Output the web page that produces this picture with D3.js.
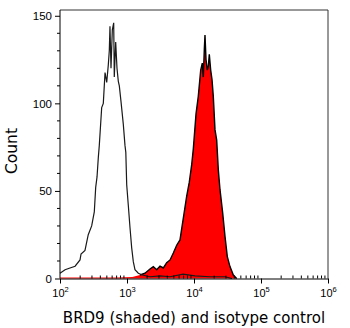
<!DOCTYPE html>
<html><head><meta charset="utf-8">
<script src="https://cdn.jsdelivr.net/npm/d3@7"></script>
<style>html,body{margin:0;padding:0;background:#fff;}</style>
</head><body>
<svg id="chart" width="350" height="328"></svg>
<script>
// Isotype control histogram (unshaded): fluorescence intensity, count
const isoIntensity = [100,119,141,168,199,206,236,264,297,325,341,357,373,386,419,443,470,498,526,544,557,577,604,633,646,678,709,742,768,814,881,933,960,990,1045,1109,1175,1242,1315,1475,1692,2203,3110,4390,6860,10350,17340,29040,36900];
const isoCount     = [3,5,6,7,10.6,14,16,25,30,38,52,58,69,76,97.6,100,117.6,112,122,130,144,120,142,146,115,135,120,112.6,110,101,88,76,72,53.5,42,29,17.5,9.6,5,3,2,1,1.5,1,2.5,1.5,1,1,0];
// BRD9 histogram (shaded red)
const brdIntensity = [100,300,700,1200,1563,1857,2203,2471,2774,3110,3485,3913,4390,4914,5517,6180,6776,7161,7780,8508,9240,9770,10720,11590,12590,13300,13770,14260,14590,15110,15810,16350,16920,17740,18570,19410,20570,21810,23060,24440,26790,29040,31420,34440,38620,43340];
const brdCount     = [0.5,0.5,0.5,0.8,2,3,5.4,6.8,5,7,6,9,10.6,14.6,19,22,32,38,47,55,65,74,94,104,119,123,115,131,139,125,119,121,128,119,113.6,104,85,79,62,50.7,37.5,24,12.5,6.8,2,0];
const xTickValues = [100,1000,10000,100000,1000000];
const xTickExp = ["2","3","4","5","6"];
const yTickValues = [0,50,100,150];
const yMinorValues = [10,20,30,40,60,70,80,90,110,120,130,140];
const xTitle = "BRD9 (shaded) and isotype control";
const yTitle = "Count";

const svg = d3.select("#chart");
const x = d3.scaleLog().domain([100,1e6]).range([60,328]);
const y = d3.scaleLinear().domain([0,153.3]).range([278.5,10]);

const brd = brdIntensity.map((v,i)=>({x:v,c:brdCount[i]}));
const iso = isoIntensity.map((v,i)=>({x:v,c:isoCount[i]}));

// red area
svg.append("path").datum(brd)
  .attr("d", d3.area().x(d=>x(d.x)).y0(y(0)).y1(d=>y(d.c)))
  .attr("fill","#ff0000");
svg.append("path").datum(brd.filter(d=>d.x>=1500))
  .attr("d", d3.line().x(d=>x(d.x)).y(d=>y(d.c)))
  .attr("fill","none").attr("stroke","#000").attr("stroke-width",1.4);
// isotype line
svg.append("path").datum(iso)
  .attr("d", d3.line().x(d=>x(d.x)).y(d=>y(d.c)))
  .attr("fill","none").attr("stroke","#1a1a1a").attr("stroke-width",1.2);

// frame
svg.append("path").attr("d",`M${x(100)},${y.range()[1]}H${x(1e6)}V${y(0)}`)
  .attr("fill","none").attr("stroke","#333").attr("stroke-width",1);

// y axis
const yAxis = svg.append("g").attr("transform",`translate(${x(100)},0)`);
yAxis.call(d3.axisLeft(y).tickValues(yTickValues).tickSize(5).tickSizeOuter(0).tickPadding(3));
yAxis.append("g").selectAll("line").data(yMinorValues).join("line")
  .attr("x1",-3).attr("x2",0).attr("y1",d=>y(d)).attr("y2",d=>y(d)).attr("stroke","#000");
yAxis.select(".domain").attr("d",`M0,${y.range()[1]}V${y(0)}`);
yAxis.selectAll("text").attr("font-family","Liberation Sans, Arial, sans-serif").attr("font-size","11.5px").attr("fill","#000");

// x axis
const xAxis = svg.append("g").attr("transform",`translate(0,${y(0)})`);
xAxis.call(d3.axisBottom(x).tickValues(xTickValues).tickSize(5).tickSizeOuter(0).tickFormat(()=>""));
const minor = [];
for (let e=2;e<6;e++) for (let m=2;m<10;m++) minor.push(m*Math.pow(10,e));
xAxis.append("g").selectAll("line").data(minor).join("line")
  .attr("x1",d=>x(d)).attr("x2",d=>x(d)).attr("y1",0).attr("y2",-3).attr("stroke","#000");
const xl = xAxis.selectAll(".tick").append("text").attr("y",18.5).attr("fill","#000")
  .attr("font-family","Liberation Sans, Arial, sans-serif").attr("font-size","11px").attr("text-anchor","middle");
xl.append("tspan").text("10");
xl.append("tspan").attr("dy","-5").attr("font-size","7.5px").text((d,i)=>xTickExp[i]);

// titles
svg.append("text").attr("x",(x(100)+x(1e6))/2).attr("y",323).attr("text-anchor","middle")
  .attr("font-family","DejaVu Sans, Verdana, sans-serif").attr("font-size","15px").text(xTitle);
svg.append("text").attr("transform","translate(17,151) rotate(-90)").attr("text-anchor","middle")
  .attr("font-family","DejaVu Sans, Verdana, sans-serif").attr("font-size","15.5px").text(yTitle);
</script>
</body></html>
